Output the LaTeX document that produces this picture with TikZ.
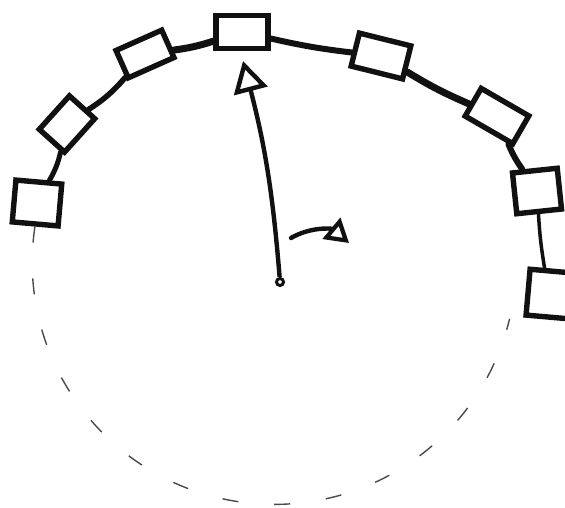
\documentclass[tikz,border=0pt]{standalone}
\usepackage{xcolor}
\usepackage{tikz}
\usetikzlibrary{arrows.meta}
\definecolor{InkBlack} {HTML}{111111}
\definecolor{DashGrey} {HTML}{4A4A4A}
\tikzset{
  slot/.style={draw=InkBlack,line width=5.4pt,inner sep=0pt,fill=white},
  link/.style={draw=InkBlack,line width=#1,line cap=round},
  needle/.style={draw=InkBlack,line width=4.4pt,
    -{Triangle[open,length=31pt,width=34pt,line width=4.4pt]}},
  turn/.style={draw=InkBlack,line width=4.4pt,line cap=round,
    -{Triangle[open,length=23pt,width=27pt,line width=4.2pt]}}
}
\begin{document}
\begin{tikzpicture}[x=1pt,y=-1pt]
    \useasboundingbox[fill=white] (0,0) rectangle (565,508);
    \node[slot,minimum width=52pt,minimum height=33pt]             (b1) at (242,32)  {};
    \node[slot,minimum width=50pt,minimum height=30pt,rotate=24]   (b2) at (145,54)  {};
    \node[slot,minimum width=45pt,minimum height=34pt,rotate=48]   (b3) at (67,124)  {};
    \node[slot,minimum width=46pt,minimum height=42pt,rotate=-5]   (b4) at (37,203)  {};
    \node[slot,minimum width=53pt,minimum height=34pt,rotate=-14]  (b5) at (381,56)  {};
    \node[slot,minimum width=55pt,minimum height=32pt,rotate=-30]  (b6) at (497,116) {};
    \node[slot,minimum width=45pt,minimum height=41pt,rotate=6]    (b7) at (537,191) {};
    \node[slot,minimum width=42pt,minimum height=46pt,rotate=-5]   (b8) at (549,294) {};
    \draw[link=5pt]   (b4) to[bend right=8] (b3);
    \draw[link=5.5pt] (b3) to[bend right=8] (b2);
    \draw[link=7pt]   (b2) to[bend right=5] (b1);
    \draw[link=6pt]   (b1) to[bend right=3] (b5);
    \draw[link=7pt]   (b5) to[bend right=4] (b6);
    \draw[link=6pt]   (b6) to[bend right=6] (b7);
    \draw[link=3.5pt] (b7) to[bend right=3] (b8);
    \draw[DashGrey,line width=1.4pt,dash pattern=on 16pt off 36pt]
      (b4.south) arc[start angle=188.5,end angle=13.5,radius=242];
    \node[circle,draw=InkBlack,line width=3pt,minimum size=7pt,inner sep=0pt] (pivot) at (280,282) {};
    \coordinate (tip) at (243,61);
    \draw[needle] (pivot) to[bend right=5] (tip);
    \coordinate (turnA) at (291,238);
    \coordinate (turnB) at (349,243);
    \draw[turn] (turnA) to[bend left=35] (turnB);
  \end{tikzpicture}
\end{document}
